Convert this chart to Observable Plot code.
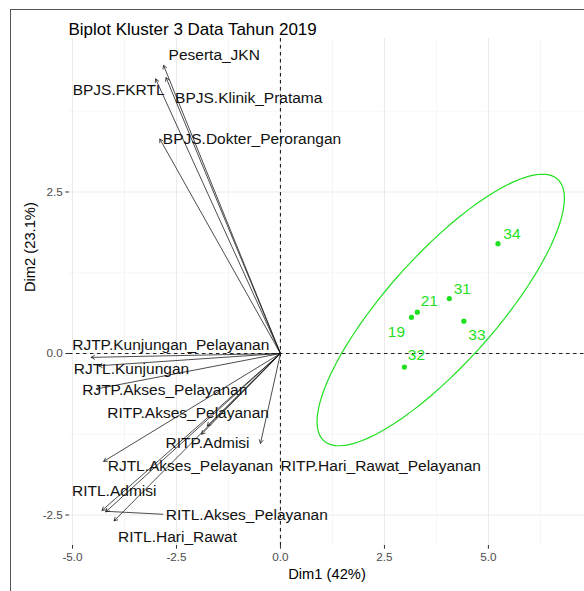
<!DOCTYPE html>
<html>
<head>
<meta charset="utf-8">
<script src="https://cdn.jsdelivr.net/npm/d3@7"></script>
<script src="https://cdn.jsdelivr.net/npm/@observablehq/plot@0.6"></script>
<style>
  body { margin: 0; background: #fff; }
  #wrap { position: relative; width: 584px; height: 591px; overflow: hidden; background: #fff; }
  #wrap svg { position: absolute; left: 0; top: 0; }
  #frame { position: absolute; left: 10px; top: 9px; width: 700px; height: 700px;
           border-left: 1.5px solid #555; border-top: 1.5px solid #555; }
</style>
</head>
<body>
<div id="wrap"></div>
<script>
// Variable loadings (arrows)
const varNames = [
  "Peserta_JKN", "BPJS.FKRTL", "BPJS.Klinik_Pratama", "BPJS.Dokter_Perorangan",
  "RJTP.Kunjungan_Pelayanan", "RJTL.Kunjungan", "RJTP.Akses_Pelayanan",
  "RITP.Akses_Pelayanan", "RITP.Admisi", "RITP.Hari_Rawat_Pelayanan",
  "RJTL.Akses_Pelayanan", "RITL.Admisi", "RITL.Akses_Pelayanan", "RITL.Hari_Rawat"
];
const varDim1 = [-2.81, -3.00, -2.75, -2.90, -4.55, -4.37, -4.43, -1.76, -1.90, -0.48, -4.25, -4.29, -4.20, -4.00];
const varDim2 = [ 4.46,  4.25,  4.27,  3.32, -0.06, -0.19, -0.55, -1.12, -1.25, -1.39, -1.67, -2.43, -2.45, -2.59];

// Label nudges in pixels (left edge of text, vertical centre) relative to arrow tips
const varLabelNudge = [
  [5, -10], [-83, 11], [9, 20], [3, 0],
  [-19, -12], [-25, 3], [-14, 1],
  [-100, -13], [-36, 9], [20, 23],
  [4, 5], [-30, -19], [60, 3], [4, 16]
];
// Labels that get a connector segment back to their arrow tip
const segmentLabels = ["RITL.Akses_Pelayanan"];

// Individuals of cluster 3
const obsIds  = ["19", "21", "31", "32", "33", "34"];
const obsDim1 = [3.15, 3.29, 4.06, 2.98, 4.41, 5.23];
const obsDim2 = [0.56, 0.64, 0.85, -0.21, 0.50, 1.70];
const obsLabelNudge = [[-15, 15], [12, -11], [13, -10], [12, -12], [13, 14], [14, -10]];

// Axes
const xTicks = [-5, -2.5, 0, 2.5, 5];
const yTicks = [-2.5, 0, 2.5];
const xMinor = [-3.75, -1.25, 1.25, 3.75, 6.25];
const yMinor = [-1.25, 1.25, 3.75];
const xDomain = [-5.072, 7.31];
const yDomain = [-2.972, 4.876];
const titleText = "Biplot Kluster 3 Data Tahun 2019";
const xLabel = "Dim1 (42%)";
const yLabel = "Dim2 (23.1%)";

const clusterColor = "#1ee01e";
const fontFamily = "'Liberation Sans', Arial, sans-serif";

const vars = varNames.map((name, i) => ({name, x: varDim1[i], y: varDim2[i], nudge: varLabelNudge[i]}));
const obs = obsIds.map((id, i) => ({id, x: obsDim1[i], y: obsDim2[i], nudge: obsLabelNudge[i]}));

// 95% normal concentration ellipse (as in ggplot2 stat_ellipse, type = "norm")
function normEllipse(pts, level = 0.95, segments = 80) {
  const n = pts.length;
  const mx = d3.mean(pts, d => d.x), my = d3.mean(pts, d => d.y);
  let sxx = 0, syy = 0, sxy = 0;
  for (const p of pts) {
    sxx += (p.x - mx) ** 2; syy += (p.y - my) ** 2; sxy += (p.x - mx) * (p.y - my);
  }
  sxx /= n - 1; syy /= n - 1; sxy /= n - 1;
  const a = Math.sqrt(sxx), b = sxy / a, c = Math.sqrt(syy - b * b);
  const dfd = n - 1;
  const qf = (dfd / 2) * (Math.pow(1 - level, -2 / dfd) - 1); // F quantile, dfn = 2
  const radius = Math.sqrt(2 * qf);
  const out = [];
  for (let k = 0; k <= segments; k++) {
    const t = (2 * Math.PI * k) / segments;
    const u = Math.cos(t), v = Math.sin(t);
    out.push({x: mx + radius * u * a, y: my + radius * (u * b + v * c)});
  }
  return out;
}
const ellipse = normEllipse(obs);

const fmt = d => d.toFixed(1);

const chart = Plot.plot({
  width: 584,
  height: 591,
  marginLeft: 69,
  marginRight: 0,
  marginTop: 38,
  marginBottom: 46,
  style: {fontFamily, background: "transparent"},
  x: {domain: xDomain, axis: null},
  y: {domain: yDomain, axis: null},
  marks: [
    // grid
    Plot.ruleX(xMinor, {stroke: "#f4f4f4", strokeWidth: 0.8}),
    Plot.ruleY(yMinor, {stroke: "#f4f4f4", strokeWidth: 0.8}),
    Plot.ruleX(xTicks, {stroke: "#ebebeb", strokeWidth: 1.1}),
    Plot.ruleY(yTicks, {stroke: "#ebebeb", strokeWidth: 1.1}),
    // axes
    Plot.axisX(xTicks, {tickSize: 3.7, tickPadding: 3, tickFormat: fmt, fontSize: 11.7,
      stroke: "#333", fill: "#4d4d4d", label: null}),
    Plot.axisY(yTicks, {tickSize: 3.7, tickPadding: 3, tickFormat: fmt, fontSize: 11.7,
      stroke: "#333", fill: "#4d4d4d", label: null}),
    // reference lines through the origin
    Plot.ruleX([0], {stroke: "#222", strokeWidth: 1.1, strokeDasharray: "3.5,3.5"}),
    Plot.ruleY([0], {stroke: "#222", strokeWidth: 1.1, strokeDasharray: "3.5,3.5"}),
    // cluster ellipse
    Plot.line(ellipse, {x: "x", y: "y", stroke: clusterColor, strokeWidth: 1.2, curve: "linear"}),
    // variable arrows
    Plot.arrow(vars, {x1: 0, y1: 0, x2: "x", y2: "y", stroke: "#111", strokeWidth: 0.75,
      headLength: 7.5, headAngle: 60}),
    // connector segments for displaced labels
    (index, scales) => {
      const g = d3.create("svg:g");
      for (const v of vars.filter(d => segmentLabels.includes(d.name))) {
        const x0 = scales.x(v.x), y0 = scales.y(v.y);
        g.append("line")
          .attr("x1", x0).attr("y1", y0)
          .attr("x2", x0 + v.nudge[0] - 2).attr("y2", y0 + v.nudge[1])
          .attr("stroke", "#111").attr("stroke-width", 0.75);
      }
      return g.node();
    },
    // variable labels
    ...vars.map(v => Plot.text([v], {x: "x", y: "y", text: "name", textAnchor: "start",
      dx: v.nudge[0], dy: v.nudge[1], fontSize: 15.5, fill: "#111"})),
    // individuals
    Plot.dot(obs, {x: "x", y: "y", r: 2.6, fill: clusterColor, stroke: "none"}),
    ...obs.map(o => Plot.text([o], {x: "x", y: "y", text: "id", dx: o.nudge[0], dy: o.nudge[1],
      fontSize: 15.5, fill: clusterColor})),
    // titles
    Plot.text([titleText], {frameAnchor: "top-left", dx: -1, dy: -16, textAnchor: "start",
      fontSize: 17, fill: "#000"}),
    Plot.text([xLabel], {frameAnchor: "bottom", dy: 33, fontSize: 14.7, fill: "#000"}),
    Plot.text([yLabel], {frameAnchor: "left", dx: -39, rotate: -90, fontSize: 14.7, fill: "#000"})
  ]
});

const wrap = document.getElementById("wrap");
wrap.appendChild(chart);
const frame = document.createElement("div");
frame.id = "frame";
wrap.appendChild(frame);
</script>
</body>
</html>
